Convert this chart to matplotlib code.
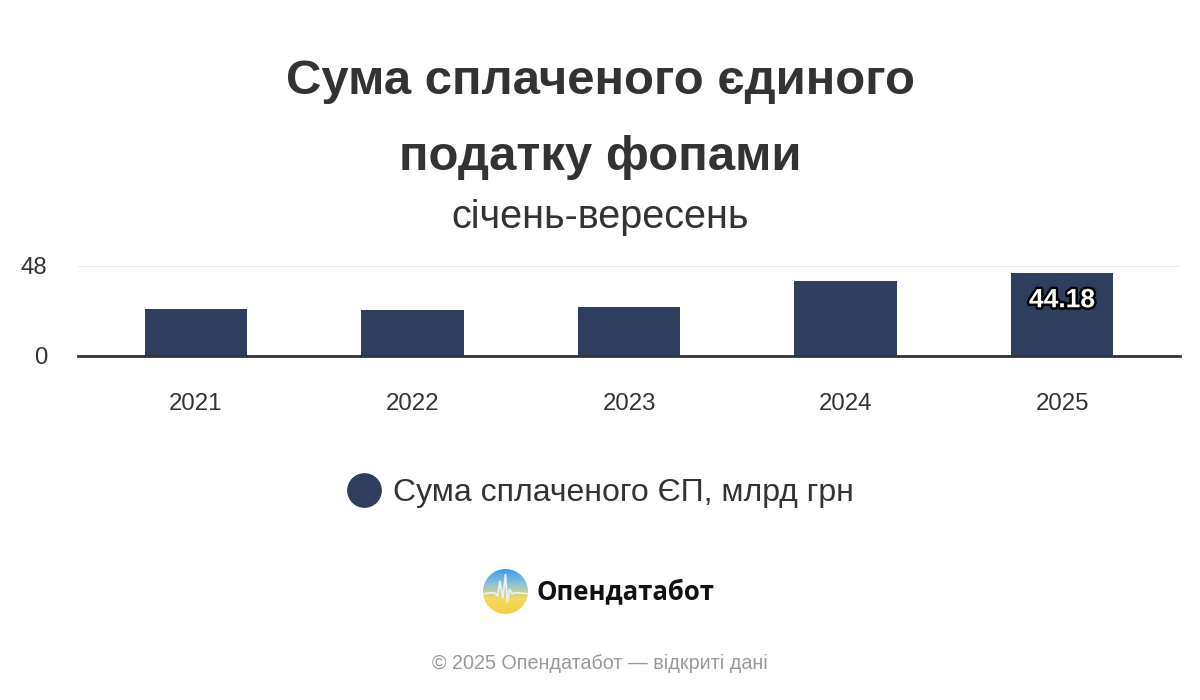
import matplotlib
matplotlib.use("Agg")
import matplotlib.pyplot as plt
import matplotlib.patheffects as pe
from matplotlib.lines import Line2D
from matplotlib.patches import Circle
from matplotlib.colors import LinearSegmentedColormap
import numpy as np

years = ["2021", "2022", "2023", "2024", "2025"]
values = [24.9, 24.8, 26.1, 39.8, 44.18]
series_name = "Сума сплаченого ЄП, млрд грн"
title_lines = ["Сума сплаченого єдиного", "податку фопами"]
subtitle = "січень-вересень"
y_ticks = [0, 48]
brand = "Опендатабот"
footer = "© 2025 Опендатабот — відкриті дані"

plt.rcParams['font.family'] = ['Liberation Sans', 'DejaVu Sans']

BAR = "#2f3d5e"
TXT = "#333333"

fig = plt.figure(figsize=(12, 7), dpi=100)
fig.patch.set_facecolor("white")

# title
fig.text(0.5, 1 - 81 / 700, title_lines[0], ha="center", va="center",
         fontsize=35.4, fontweight="bold", color=TXT)
fig.text(0.5, 1 - 158 / 700, title_lines[1], ha="center", va="center",
         fontsize=35.4, fontweight="bold", color=TXT)
fig.text(0.5, 1 - 217 / 700, subtitle, ha="center", va="center",
         fontsize=28.5, color=TXT)

# main axes
ax = fig.add_axes([78 / 1200, 1 - 356 / 700, (1180 - 78) / 1200, 90 / 700])
x = np.arange(len(years))
bars = ax.bar(x, values, width=0.475, color=BAR, zorder=2)
ax.set_xlim(-0.545, len(years) - 1 + 0.545)
ax.set_ylim(0, 48)
ax.set_yticks(y_ticks)
ax.set_yticklabels([str(t) for t in y_ticks], fontsize=17.3, color=TXT)
ax.set_xticks(x)
ax.set_xticklabels(years, fontsize=17.3, color=TXT)
ax.tick_params(axis="y", length=0, pad=22)
ax.tick_params(axis="x", length=0, pad=27)
ax.grid(axis="y", color="#e6e6e6", linewidth=1.2, zorder=0)
ax.set_axisbelow(True)
for s in ["top", "right", "left"]:
    ax.spines[s].set_visible(False)
ax.spines["bottom"].set_color("#333333")
ax.spines["bottom"].set_linewidth(2)
ax.spines["bottom"].set_zorder(3)

# data label on last bar
ax.annotate(f"{values[-1]:.2f}", xy=(x[-1], values[-1]), xytext=(0, -19.5),
            textcoords="offset points", ha="center", va="center",
            fontsize=19, fontweight="bold", color="white",
            family=["Liberation Sans Narrow", "Liberation Sans"],
            path_effects=[pe.withStroke(linewidth=3.5, foreground="black")], zorder=4)

# legend
handle = Line2D([], [], marker="o", linestyle="none", markersize=24,
                markerfacecolor=BAR, markeredgecolor=BAR)
fig.legend([handle], [series_name], loc="center", bbox_to_anchor=(0.5, 1 - 493 / 700),
           frameon=False, fontsize=23, handlelength=1.1, handletextpad=0.35,
           labelcolor=TXT)

# logo
lax = fig.add_axes([483 / 1200, 1 - 614 / 700, 45 / 1200, 45 / 700])
lax.set_xlim(-1, 1)
lax.set_ylim(-1, 1)
lax.set_aspect("equal")
lax.axis("off")
grad = np.linspace(0, 1, 256).reshape(-1, 1)
cmap = LinearSegmentedColormap.from_list("logo", ["#f2cf4a", "#f5d95a", "#8fc3d8", "#3d9be9"])
im = lax.imshow(grad, extent=(-1, 1, -1, 1), origin="lower", cmap=cmap, aspect="auto")
circ = Circle((0, 0), 1, transform=lax.transData)
im.set_clip_path(circ)
sx = [-1, -0.5, -0.35, -0.25, -0.12, 0.0, 0.08, 0.18, 0.3, 0.45, 1]
sy = [-0.1, -0.05, -0.2, 0.45, -0.3, 0.75, -0.45, 0.1, -0.1, -0.05, -0.1]
ln, = lax.plot(sx, sy, color="#e8f0f5", linewidth=1.3)
ln.set_clip_path(circ)
fig.text(537 / 1200, 1 - 592 / 700, brand, ha="left", va="center",
         fontsize=18.5, fontweight="bold", color="#111111",
         family=["Open Sans", "DejaVu Sans"])

# footer
fig.text(0.5, 1 - 663 / 700, footer, ha="center", va="center",
         fontsize=14.2, color="#999999")

fig.savefig("out.png", dpi=100, facecolor="white")
